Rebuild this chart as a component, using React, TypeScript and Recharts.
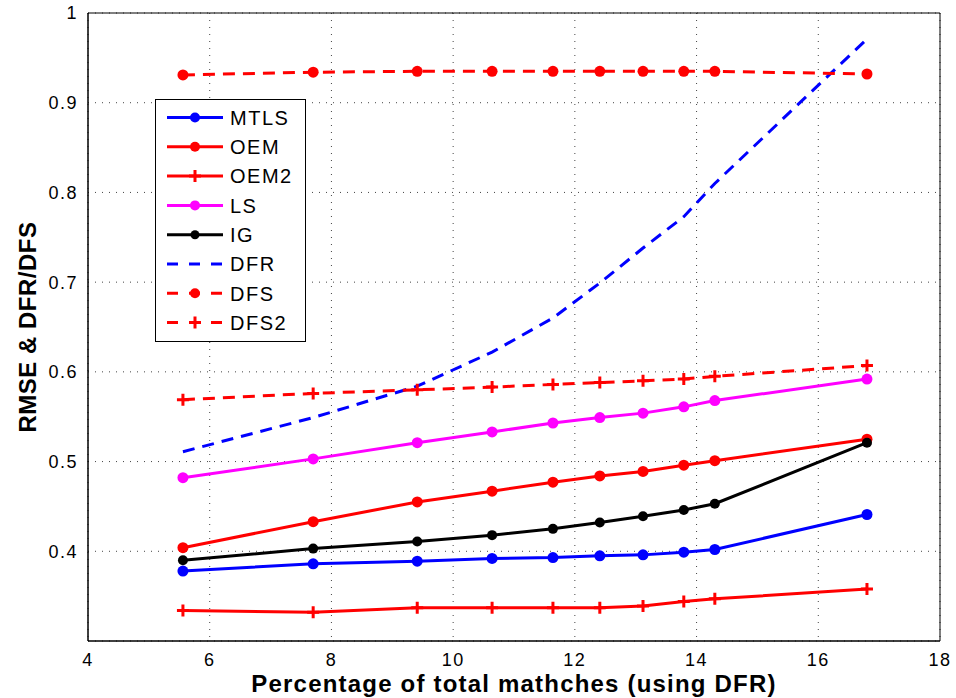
import React from 'react';
import {
    LineChart, Line, XAxis, YAxis, CartesianGrid, ReferenceArea, Label,
} from 'recharts';

const xValues = [5.56, 7.7, 9.41, 10.64, 11.64, 12.41, 13.12, 13.79, 14.3, 16.8];
const mtls = [0.378, 0.386, 0.389, 0.392, 0.393, 0.395, 0.396, 0.399, 0.402, 0.441];
const oem = [0.404, 0.433, 0.455, 0.467, 0.477, 0.484, 0.489, 0.496, 0.501, 0.525];
const oem2 = [0.334, 0.332, 0.337, 0.337, 0.337, 0.337, 0.339, 0.344, 0.347, 0.358];
const ls = [0.482, 0.503, 0.521, 0.533, 0.543, 0.549, 0.554, 0.561, 0.568, 0.592];
const ig = [0.390, 0.403, 0.411, 0.418, 0.425, 0.432, 0.439, 0.446, 0.453, 0.521];
const dfr = [0.511, 0.549, 0.584, 0.622, 0.660, 0.699, 0.738, 0.773, 0.810, 0.971];
const dfs = [0.931, 0.934, 0.935, 0.935, 0.935, 0.935, 0.935, 0.935, 0.935, 0.932];
const dfs2 = [0.569, 0.576, 0.580, 0.583, 0.586, 0.588, 0.590, 0.592, 0.595, 0.607];

const xTicks = [4, 6, 8, 10, 12, 14, 16, 18];
const yTicks = [0.4, 0.5, 0.6, 0.7, 0.8, 0.9, 1];

const data = xValues.map((x, i) => ({
    x,
    MTLS: mtls[i],
    OEM: oem[i],
    OEM2: oem2[i],
    LS: ls[i],
    IG: ig[i],
    DFR: dfr[i],
    DFS: dfs[i],
    DFS2: dfs2[i],
}));

type Marker = 'circle' | 'plus' | 'none';
const series: { key: string; color: string; dashed: boolean; marker: Marker; r: number }[] = [
    { key: 'MTLS', color: '#0000ff', dashed: false, marker: 'circle', r: 5.5 },
    { key: 'OEM', color: '#ff0000', dashed: false, marker: 'circle', r: 5.5 },
    { key: 'OEM2', color: '#ff0000', dashed: false, marker: 'plus', r: 6 },
    { key: 'LS', color: '#ff00ff', dashed: false, marker: 'circle', r: 5.5 },
    { key: 'IG', color: '#000000', dashed: false, marker: 'circle', r: 5 },
    { key: 'DFR', color: '#0000ff', dashed: true, marker: 'none', r: 0 },
    { key: 'DFS', color: '#ff0000', dashed: true, marker: 'circle', r: 5.5 },
    { key: 'DFS2', color: '#ff0000', dashed: true, marker: 'plus', r: 6 },
];

const FONT = '"Liberation Sans", Arial, Helvetica, sans-serif';
const DASH = '12 8';
const tickStyle = { fill: '#000', fontSize: 18, fontFamily: FONT, letterSpacing: 1.5 };
const titleStyle = { fontSize: 24, fontWeight: 'bold', fontFamily: FONT, fill: '#000' };

function makeDot(marker: Marker, color: string, r: number) {
    if (marker === 'none') return false;
    return (props: any) => {
        const { cx, cy, index } = props;
        if (cx == null || cy == null) return <g key={index} />;
        if (marker === 'circle') {
            return <circle key={index} cx={cx} cy={cy} r={r} fill={color} stroke="none" />;
        }
        return (
            <path
                key={index}
                d={`M${cx - r},${cy}H${cx + r}M${cx},${cy - r}V${cy + r}`}
                stroke={color}
                strokeWidth={3}
                fill="none"
            />
        );
    };
}

function LegendBox() {
    const rowH = 29.3;
    return (
        <svg width={151} height={243} style={{ display: 'block' }}>
            <rect x={0.5} y={0.5} width={150} height={242} fill="#fff" stroke="#000" strokeWidth={1} />
            {series.map((s, i) => {
                const y = 18.5 + i * rowH;
                return (
                    <g key={s.key}>
                        <line
                            x1={12} x2={68} y1={y} y2={y}
                            stroke={s.color} strokeWidth={3}
                            strokeDasharray={s.dashed ? '11 11' : undefined}
                        />
                        {s.marker === 'circle' && <circle cx={40} cy={y} r={s.key === 'IG' ? 4.5 : 5} fill={s.color} />}
                        {s.marker === 'plus' && (
                            <path d={`M34,${y}H46M40,${y - 6}V${y + 6}`} stroke={s.color} strokeWidth={3} />
                        )}
                        <text x={75} y={y} dy="0.36em" fontSize={20} letterSpacing={1.5} fontFamily={FONT} fill="#000">
                            {s.key}
                        </text>
                    </g>
                );
            })}
        </svg>
    );
}

export default function App() {
    return (
        <div style={{ position: 'absolute', left: 0, top: 0, width: 956, height: 698, background: '#fff' }}>
            <LineChart
                width={956}
                height={698}
                data={data}
                margin={{ top: 13, right: 16, bottom: 0, left: 0 }}
            >
                <CartesianGrid stroke="#444" strokeDasharray="1 6" />
                <XAxis
                    type="number"
                    dataKey="x"
                    domain={[4, 18]}
                    ticks={xTicks}
                    height={57}
                    axisLine={{ stroke: '#000' }}
                    tickLine={false}
                    tickMargin={6}
                    tick={tickStyle}
                >
                    <Label
                        value="Percentage of total mathches (using DFR)"
                        position="center"
                        dy={14}
                        style={{ ...titleStyle, letterSpacing: 1.2 }}
                    />
                </XAxis>
                <YAxis
                    type="number"
                    domain={[0.3, 1]}
                    ticks={yTicks}
                    width={88}
                    axisLine={{ stroke: '#000' }}
                    tickLine={false}
                    tickMargin={4}
                    tickFormatter={(v: number) => (v === 1 ? '1' : v.toFixed(1))}
                    tick={tickStyle}
                >
                    <Label
                        value="RMSE & DFR/DFS"
                        angle={-90}
                        position="center"
                        dx={-17}
                        style={{ ...titleStyle, letterSpacing: 0.5, textAnchor: 'middle' }}
                    />
                </YAxis>
                <ReferenceArea x1={4} x2={18} y1={0.3} y2={1} fill="none" stroke="#000" strokeWidth={1} ifOverflow="visible" />
                {series.map((s) => (
                    <Line
                        key={s.key}
                        type="linear"
                        dataKey={s.key}
                        stroke={s.color}
                        strokeWidth={3}
                        strokeDasharray={s.dashed ? DASH : undefined}
                        dot={makeDot(s.marker, s.color, s.r)}
                        activeDot={false}
                        isAnimationActive={false}
                    />
                ))}
            </LineChart>
            <div style={{ position: 'absolute', left: 155, top: 99 }}>
                <LegendBox />
            </div>
        </div>
    );
}
